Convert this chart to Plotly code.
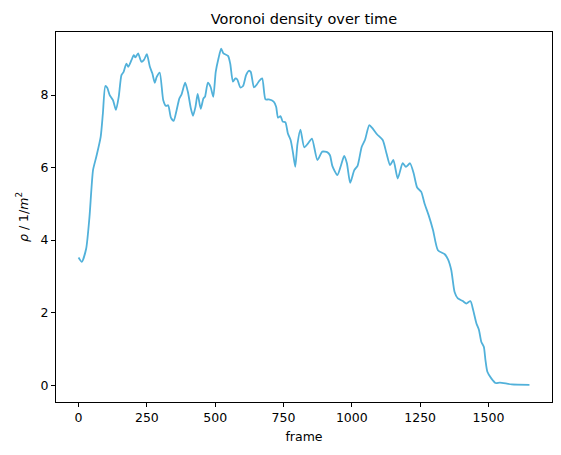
import plotly.graph_objects as go

# values
frames = [
    0, 12, 28, 40, 53, 65, 81, 89, 98, 105, 114, 126, 137, 147, 157, 165,
    175, 182, 194, 202, 208, 218, 230, 240, 250, 261, 270, 279, 286, 297,
    310, 320, 328, 338, 348, 359, 369, 377, 390, 400, 411, 419, 428, 436,
    447, 457, 463, 473, 483, 493, 502, 512, 522, 530, 547, 555, 565, 574,
    581, 592, 602, 613, 623, 630, 642, 653, 662, 672, 684, 696, 714, 723,
    730, 739, 747, 757, 766, 776, 784, 793, 801, 812, 826, 840, 854, 874,
    892, 911, 920, 929, 947, 960, 972, 982, 994, 1009, 1021, 1036, 1048,
    1064, 1076, 1092, 1113, 1127, 1140, 1152, 1168, 1186, 1198, 1213, 1226,
    1239, 1254, 1266, 1281, 1297, 1315, 1340, 1352, 1364, 1376, 1388, 1406,
    1419, 1434, 1444, 1456, 1465, 1474, 1483, 1489, 1496, 1511, 1526, 1542,
    1585, 1650,
]
density = [
    3.52, 3.40, 3.77, 4.64, 5.93, 6.30, 6.85, 7.49, 8.25, 8.20, 8.00, 7.86,
    7.59, 7.95, 8.55, 8.64, 8.87, 8.78, 8.97, 9.10, 9.04, 9.15, 8.92, 8.98,
    9.13, 8.78, 8.60, 8.34, 8.50, 8.62, 7.86, 7.70, 7.72, 7.38, 7.29, 7.59,
    7.91, 8.02, 8.34, 8.09, 7.63, 7.43, 7.68, 8.03, 7.62, 7.91, 7.96, 8.34,
    8.23, 7.95, 8.64, 9.01, 9.28, 9.15, 9.08, 8.87, 8.37, 8.46, 8.43, 8.21,
    8.25, 8.55, 8.67, 8.64, 8.21, 8.30, 8.40, 8.46, 7.88, 7.88, 7.82, 7.68,
    7.38, 7.42, 7.27, 7.25, 6.94, 6.76, 6.44, 6.02, 6.65, 7.05, 6.56, 6.67,
    6.80, 6.21, 6.44, 6.42, 6.34, 6.04, 5.79, 6.05, 6.32, 6.12, 5.58, 5.93,
    6.05, 6.57, 6.76, 7.17, 7.08, 6.92, 6.76, 6.39, 6.07, 6.21, 5.70, 6.12,
    6.02, 6.12, 5.85, 5.45, 5.33, 5.01, 4.69, 4.28, 3.72, 3.61, 3.47, 3.17,
    2.57, 2.39, 2.32, 2.25, 2.32, 2.07, 1.70, 1.53, 1.19, 1.06, 0.69, 0.37,
    0.18, 0.06, 0.07, 0.02, 0.01,
]
x_ticks = [0, 250, 500, 750, 1000, 1250, 1500]
y_ticks = [0, 2, 4, 6, 8]

FONT = 'DejaVu Sans'

fig = go.Figure()
fig.add_trace(go.Scatter(
    x=frames, y=density,
    mode='lines',
    line=dict(color='#51b1da', width=1.8, shape='spline', smoothing=0.6),
    showlegend=False,
))

axis_style = dict(
    showgrid=False, zeroline=False, automargin=False,
    showline=True, linecolor='black', linewidth=1, mirror=True,
    ticks='outside', ticklen=4, tickcolor='black', tickwidth=1,
    tickfont=dict(family=FONT, size=12.5, color='black'),
)
fig.update_xaxes(range=[-82.5, 1732.5], tickvals=x_ticks,
                 title=dict(text='frame', standoff=8,
                            font=dict(family=FONT, size=12.5, color='black')),
                 **axis_style)
fig.update_yaxes(range=[-0.465, 9.74], tickvals=y_ticks,
                 title=dict(text='<i>ρ</i> / 1/<i>m</i><sup>2</sup>',
                            standoff=9,
                            font=dict(family=FONT, size=12.5, color='black')),
                 **axis_style)

# the page body adds an 8px margin, so the figure is a bit smaller
fig.update_layout(
    width=553, height=447,
    margin=dict(l=48, r=9, t=24, b=53, autoexpand=False),
    paper_bgcolor='white', plot_bgcolor='white',
    font=dict(family=FONT, color='black'),
    title=dict(text='Voronoi density over time', x=0.5, xref='paper',
               y=1, yref='paper', yanchor='bottom', pad=dict(b=8),
               font=dict(family=FONT, size=14.5, color='black')),
)

fig.write_html('out.html')
